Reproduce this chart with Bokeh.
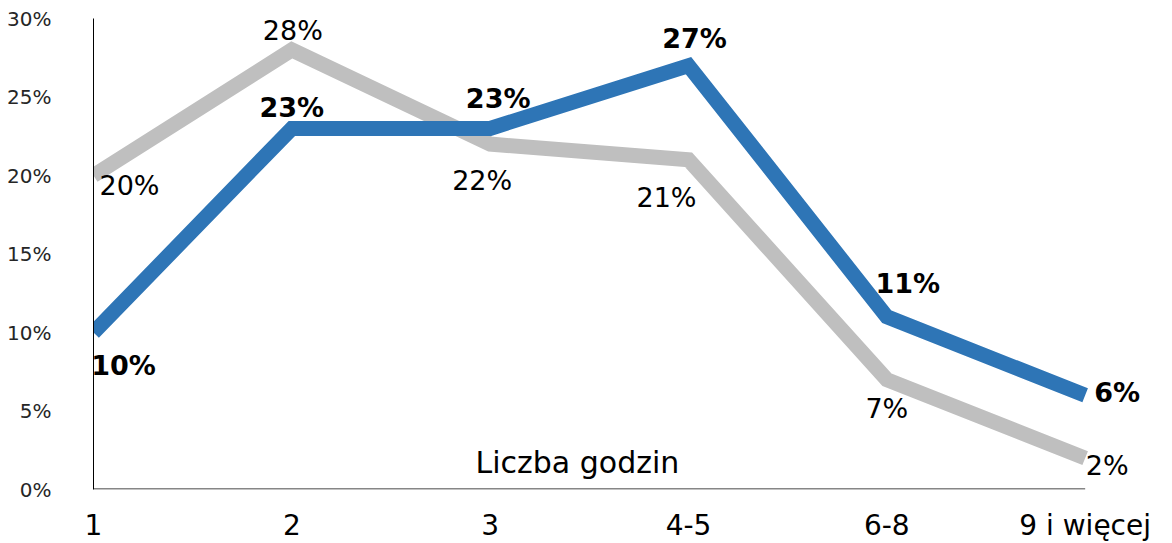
from bokeh.plotting import figure
from bokeh.models import ColumnDataSource, LabelSet, Label, FixedTicker
from bokeh.core.properties import value
from bokeh.embed import file_html
from bokeh.resources import INLINE

categories = ["1", "2", "3", "4-5", "6-8", "9 i więcej"]
blue_values = [10, 23, 23, 27, 11, 6]
gray_values = [20, 28, 22, 21, 7, 2]
y_ticks = [0, 5, 10, 15, 20, 25, 30]
axis_title = "Liczba godzin"

FONT = "DejaVu Sans"
BLUE = "#2E75B6"
GRAY = "#BFBFBF"

xs = list(range(len(categories)))

# label offsets (screen px) for each point
blue_dx = [30, 0, 8, 6, 21, 32]
blue_dy = [-33, 21, 30, 27, 33, 3]
gray_dx = [36, 1, -8, -22, 0, 22]
gray_dy = [-10, 19, -36, -38, -29, -7]

blue_src = ColumnDataSource(dict(x=xs, y=blue_values, t=[f"{v}%" for v in blue_values], dx=blue_dx, dy=blue_dy))
gray_src = ColumnDataSource(dict(x=xs, y=gray_values, t=[f"{v}%" for v in gray_values], dx=gray_dx, dy=gray_dy))

p = figure(frame_width=1071, frame_height=471, output_backend="svg", toolbar_location=None,
           x_range=(0, 5.4), y_range=(0, 30),
           min_border_left=93, min_border_right=0, min_border_top=18, min_border_bottom=0)
p.outline_line_color = None
p.xgrid.visible = False
p.ygrid.visible = False
p.background_fill_color = "white"

p.line("x", "y", source=gray_src, line_color=GRAY, line_width=15, line_join="miter")
p.line("x", "y", source=blue_src, line_color=BLUE, line_width=15, line_join="miter")

# x axis baseline
p.segment(x0=[0], y0=[0], x1=[len(categories) - 1], y1=[0], line_color="#868686", line_width=3)

gray_labels = LabelSet(x="x", y="y", text="t", source=gray_src, x_offset="dx", y_offset="dy",
                       text_align="center", text_baseline="middle", text_font=value(FONT),
                       text_font_size=value("27px"), text_color="black")
blue_labels = LabelSet(x="x", y="y", text="t", source=blue_src, x_offset="dx", y_offset="dy",
                       text_align="center", text_baseline="middle", text_font=value(FONT),
                       text_font_size=value("27px"), text_font_style="bold", text_color="black")
p.add_layout(gray_labels)
p.add_layout(blue_labels)

p.add_layout(Label(x=2.44, y=1.7, text=axis_title, text_align="center", text_baseline="middle",
                   text_font=FONT, text_font_size="30px", text_color="black"))

# y axis
p.yaxis.ticker = FixedTicker(ticks=y_ticks)
p.yaxis.major_label_overrides = {t: f"{t}%" for t in y_ticks}
p.yaxis.axis_line_color = "black"
p.yaxis.axis_line_width = 1
p.yaxis.major_tick_line_color = None
p.yaxis.minor_tick_line_color = None
p.yaxis.major_label_standoff = 36
p.yaxis.major_label_text_font = FONT
p.yaxis.major_label_text_font_size = "20px"
p.yaxis.major_label_text_color = "#262626"

# x axis
p.xaxis.ticker = FixedTicker(ticks=xs)
p.xaxis.major_label_overrides = {i: c for i, c in zip(xs, categories)}
p.xaxis.axis_line_color = None
p.xaxis.major_tick_line_color = None
p.xaxis.minor_tick_line_color = None
p.xaxis.major_tick_out = 0
p.xaxis.major_label_standoff = 19
p.xaxis.major_label_text_font = FONT
p.xaxis.major_label_text_font_size = "28px"
p.xaxis.major_label_text_color = "black"

open("out.html", "w").write(file_html(p, INLINE))
